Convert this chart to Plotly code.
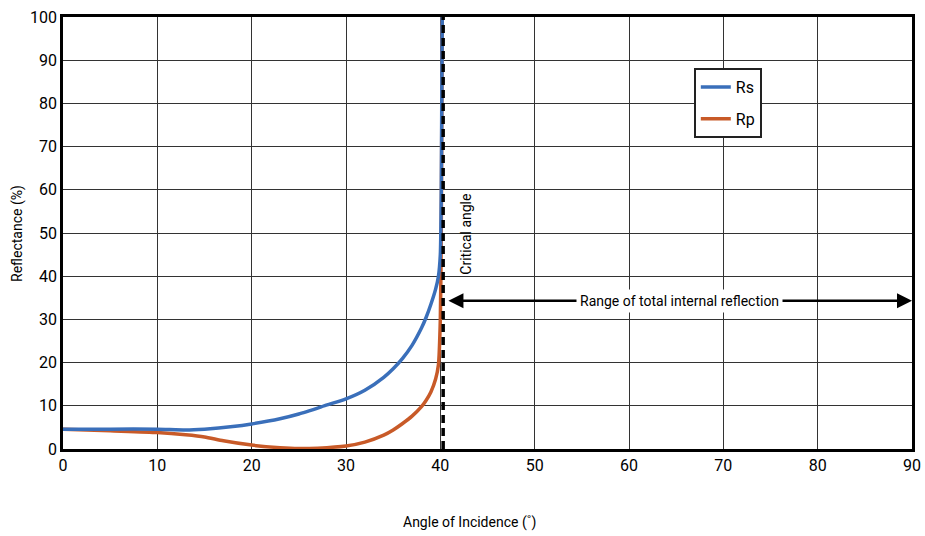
import plotly.graph_objects as go

# Angle of incidence (deg) and reflectance (%)
rs_angle = [0, 5, 10, 13, 15, 18, 20, 23, 25, 28, 30, 32, 34, 35, 36, 37, 38, 38.5, 39, 39.5, 39.8, 40.0, 40.1, 40.15, 40.2]
rs_value = [4.6, 4.6, 4.6, 4.4, 4.6, 5.2, 5.8, 7.0, 8.1, 10.2, 11.6, 13.6, 16.6, 18.6, 21, 24, 28, 30.5, 33.5, 37, 40, 45, 60, 80, 100]

rp_angle = [0, 5, 10, 13, 15, 17, 20, 23, 25, 27, 30, 32, 34, 35, 36, 37, 38, 38.5, 39, 39.5, 39.8, 40.0, 40.1, 40.15, 40.2]
rp_value = [4.6, 4.2, 3.8, 3.3, 2.8, 1.9, 0.9, 0.3, 0.1, 0.2, 0.7, 1.6, 3.2, 4.4, 5.9, 7.6, 9.8, 11.3, 13.2, 16.2, 19.5, 30, 50, 75, 100]

critical_angle = 40.3
arrow_level = 34.3
x_ticks = list(range(0, 91, 10))
y_ticks = list(range(0, 101, 10))

FONT = "Roboto, Liberation Sans, sans-serif"

fig = go.Figure()
fig.add_trace(go.Scatter(x=rp_angle, y=rp_value, mode="lines", name="Rp", legendgroup="rp", legendrank=2,
                         line=dict(color="#C85A28", width=3.5, shape="spline", smoothing=0.6)))
fig.add_trace(go.Scatter(x=rs_angle, y=rs_value, mode="lines", name="Rs", legendgroup="rs", legendrank=1,
                         line=dict(color="#3A6FBA", width=3.5, shape="spline", smoothing=0.6)))

fig.add_shape(type="line", x0=critical_angle, x1=critical_angle, y0=0, y1=100,
              xref="x", yref="y", line=dict(color="black", width=3.5, dash="8px,5px"))

fig.add_annotation(x=90, y=arrow_level, ax=40.7, ay=arrow_level, xref="x", yref="y",
                   axref="x", ayref="y", text="", showarrow=True, arrowhead=2,
                   arrowside="end+start", arrowsize=1.2, arrowwidth=2.5, arrowcolor="black")
fig.add_annotation(x=65.3, y=arrow_level, xref="x", yref="y", text="Range of total internal reflection",
                   showarrow=False, bgcolor="white", borderpad=3,
                   font=dict(family=FONT, size=14, color="black"))
fig.add_annotation(x=42.7, y=49.8, xref="x", yref="y", text="Critical angle",
                   showarrow=False, textangle=-90, font=dict(family=FONT, size=14, color="black"))

# axis titles
fig.add_annotation(x=0.479, y=-0.171, xref="paper", yref="paper", text="Angle of Incidence (˚)",
                   xanchor="center", yanchor="middle",
                   showarrow=False, font=dict(family=FONT, size=14, color="black"))
fig.add_annotation(x=-0.0542, y=0.5, xref="paper", yref="paper", text="Reflectance (%)",
                   xanchor="center", yanchor="middle",
                   showarrow=False, textangle=-90, font=dict(family=FONT, size=14, color="black"))

axis_common = dict(showgrid=True, gridcolor="#333333", gridwidth=1, showline=True,
                   linecolor="black", linewidth=2.5, mirror=True, ticks="", zeroline=False,
                   automargin=False, tickfont=dict(family=FONT, size=16, color="black"))

fig.update_layout(
    width=925, height=536,
    margin=dict(l=63, r=13, t=17, b=87),
    paper_bgcolor="white", plot_bgcolor="white",
    font=dict(family=FONT, size=14, color="black"),
    showlegend=True,
    legend=dict(x=0.743, y=0.882, xanchor="left", yanchor="top", bgcolor="white",
                bordercolor="#222222", borderwidth=2, font=dict(family=FONT, size=16),
                itemwidth=30, tracegroupgap=8),
)
fig.update_xaxes(range=[0, 90], tickvals=x_ticks, **axis_common)
fig.update_yaxes(range=[0, 100], tickvals=y_ticks, **axis_common)

fig.write_html("out.html", config={"displayModeBar": False},
               post_script="document.body.style.margin='0';document.body.style.overflow='hidden';")
